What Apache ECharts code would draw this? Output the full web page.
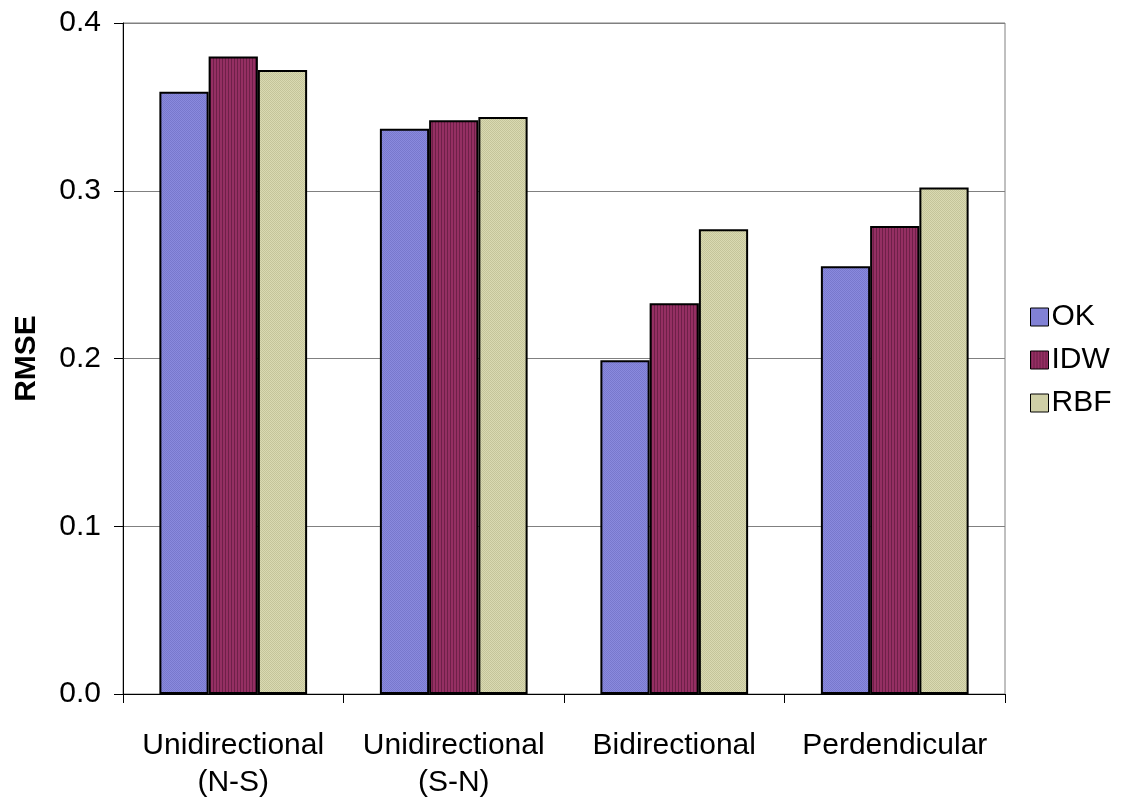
<!DOCTYPE html>
<html>
<head>
<meta charset="utf-8">
<script src="https://cdn.jsdelivr.net/npm/echarts@6/dist/echarts.min.js"></script>
<style>
  html, body { margin: 0; padding: 0; background: #fff; }
  #chart { width: 1126px; height: 805px; }
</style>
</head>
<body>
<div id="chart"></div>
<script>
// Interpolation error by flight-line layout
const categories = ['Unidirectional\n(N-S)', 'Unidirectional\n(S-N)', 'Bidirectional', 'Perdendicular'];
const okValues  = [0.359, 0.337, 0.199, 0.255];
const idwValues = [0.380, 0.342, 0.233, 0.279];
const rbfValues = [0.372, 0.344, 0.277, 0.302];
const yTicks = [0.0, 0.1, 0.2, 0.3, 0.4];

// Small tiled textures for the bar fills
function pattern(size, draw) {
  const c = document.createElement('canvas');
  c.width = size; c.height = size;
  draw(c.getContext('2d'));
  return { image: c, repeat: 'repeat' };
}
const okFill = pattern(2, g => {
  g.fillStyle = '#8a8ade'; g.fillRect(0, 0, 2, 2);
  g.fillStyle = '#7878cc'; g.fillRect(0, 0, 1, 1); g.fillRect(1, 1, 1, 1);
});
const idwFill = pattern(3, g => {
  g.fillStyle = '#952f63'; g.fillRect(0, 0, 3, 3);
  g.fillStyle = '#6e2048'; g.fillRect(0, 0, 1, 3);
});
const rbfFill = pattern(2, g => {
  g.fillStyle = '#dadab2'; g.fillRect(0, 0, 2, 2);
  g.fillStyle = '#c4c49a'; g.fillRect(0, 0, 1, 1); g.fillRect(1, 1, 1, 1);
});

const font = '"Liberation Sans", Arial, sans-serif';

function barSeries(name, data, fill) {
  return {
    name, type: 'bar', data,
    barGap: '0%', barCategoryGap: '33%',
    itemStyle: { color: fill, borderColor: '#000', borderWidth: 2 },
    emphasis: { disabled: true }
  };
}

const chart = echarts.init(document.getElementById('chart'), null, { renderer: 'canvas' });
chart.setOption({
  animation: false,
  backgroundColor: '#fff',
  grid: { left: 123, right: 121, top: 23, bottom: 111, show: true, borderColor: '#808080', borderWidth: 1 },
  legend: {
    orient: 'vertical', left: 1025, top: 297,
    itemWidth: 18, itemHeight: 18, itemGap: 13,
    icon: 'rect',
    textStyle: { fontFamily: font, fontSize: 30, color: '#000', padding: [0, 0, 0, -2] },
    itemStyle: { borderColor: '#000', borderWidth: 1 },
    data: ['OK', 'IDW', 'RBF']
  },
  xAxis: {
    type: 'category', data: categories,
    axisLine: { lineStyle: { color: '#000', width: 1 } },
    axisTick: { show: true, length: 9, alignWithLabel: false, lineStyle: { color: '#000' } },
    axisLabel: { fontFamily: font, fontSize: 30, color: '#000', margin: 33, lineHeight: 37, interval: 0 }
  },
  yAxis: {
    type: 'value', min: 0, max: 0.4, interval: 0.1,
    name: 'RMSE', nameLocation: 'middle', nameRotate: 90, nameGap: 81,
    nameTextStyle: { fontFamily: font, fontSize: 30, fontWeight: 'bold', color: '#000' },
    axisLine: { show: true, lineStyle: { color: '#000', width: 1 } },
    axisTick: { show: true, length: 9, lineStyle: { color: '#000' } },
    axisLabel: {
      fontFamily: font, fontSize: 30, color: '#000', margin: 22,
      formatter: v => yTicks.find(t => Math.abs(t - v) < 1e-9).toFixed(1)
    },
    splitLine: { show: true, lineStyle: { color: '#808080', width: 1 } }
  },
  series: [
    barSeries('OK', okValues, okFill),
    barSeries('IDW', idwValues, idwFill),
    barSeries('RBF', rbfValues, rbfFill)
  ]
});
</script>
</body>
</html>
